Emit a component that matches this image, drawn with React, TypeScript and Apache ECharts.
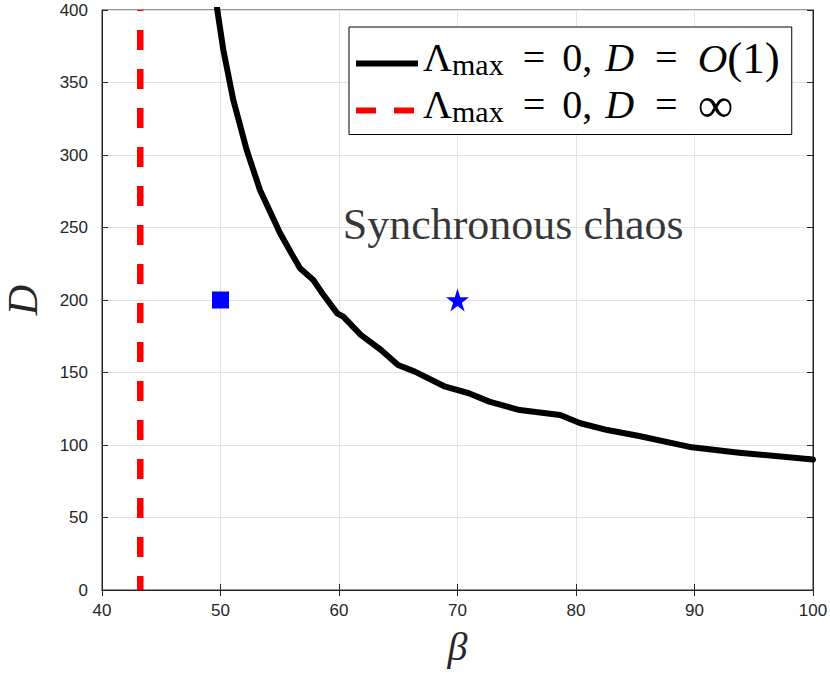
import React, { useEffect, useRef } from "react";
import * as echarts from "echarts";

const curveBeta = [49.6, 49.73, 50.24, 51.08, 52.21, 53.33, 55.02, 56.14, 56.71, 57.83, 58.7, 59.85, 60.36, 61.84, 63.55, 64.98, 66.4, 68.97, 70.96, 72.68, 75.24, 78.66, 80.37, 82.65, 85.22, 89.78, 93.77, 100];
const curveD = [410, 400, 372.4, 337.9, 303.4, 275.9, 246.2, 229.9, 221.9, 213.8, 203.4, 190.8, 188.5, 175.9, 165.5, 155.2, 150.6, 140.2, 135.7, 129.9, 124.1, 120.7, 115.0, 110.3, 106.4, 98.4, 94.7, 90.0];
const critBeta = 43.23;
const critD = [400, 0];
const squarePoint = [50, 200];
const starPoint = [70, 200];
const xTicks = [40, 50, 60, 70, 80, 90, 100];
const yTicks = [0, 50, 100, 150, 200, 250, 300, 350, 400];
const annotation = { beta: 74.7, D: 252, text: "Synchronous chaos" };

const STAR = "path://M50,0 L61.2,34.5 L97.6,34.5 L68.2,55.9 L79.4,90.5 L50,69.1 L20.6,90.5 L31.8,55.9 L2.4,34.5 L38.8,34.5 Z";
const ICON_SOLID = "path://M0,0 H62 V6 H0 Z";
const ICON_DASH = "path://M0,0 H20 V6 H0 Z M38,0 H58 V6 H38 Z M61.9,0 H62 V6 H61.9 Z";

export default function App() {
  const ref = useRef<HTMLDivElement>(null);
  useEffect(() => {
    if (!ref.current) return;
    const chart = echarts.init(ref.current, null, { renderer: "svg" });
    const axisColor = "#262626";
    const labelFont = { fontFamily: "Liberation Sans", fontSize: 17, color: axisColor };
    const serif = "Liberation Serif";
    const LH = 34;
    const rich = {
      L: { fontFamily: serif, fontSize: 40, color: "#000", lineHeight: LH },
      s: { fontFamily: serif, fontSize: 30, color: "#000", lineHeight: 20, padding: [14, 0, 0, 0] },
      e1: { fontFamily: serif, fontSize: 40, color: "#000", lineHeight: LH, padding: [0, 17, 0, 19] },
      n: { fontFamily: serif, fontSize: 40, color: "#000", lineHeight: LH },
      cm: { fontFamily: serif, fontSize: 40, color: "#000", lineHeight: LH, padding: [0, 13, 0, 0] },
      i: { fontFamily: serif, fontSize: 40, fontStyle: "italic", color: "#000", lineHeight: LH },
      e2: { fontFamily: serif, fontSize: 40, color: "#000", lineHeight: LH, padding: [0, 20, 0, 21] },
      c: { fontFamily: serif, fontSize: 41, fontStyle: "italic", color: "#000", lineHeight: LH },
      p: { fontFamily: serif, fontSize: 45, color: "#000", lineHeight: LH },
      inf: { fontFamily: serif, fontSize: 50, color: "#000", lineHeight: LH },
    };
    chart.setOption({
      animation: false,
      grid: {
        left: 102, right: 17, top: 10, bottom: 83, show: true, borderColor: axisColor, borderWidth: 1,
        outerBoundsMode: "none", containLabel: false,
      },
      xAxis: [
        {
          type: "value", min: 40, max: 100, interval: 10,
          name: "β", nameLocation: "middle", nameGap: 36,
          nameTextStyle: { fontFamily: serif, fontStyle: "italic", fontSize: 40, color: axisColor },
          axisLine: { show: true, lineStyle: { color: axisColor } },
          axisTick: { show: true, inside: true, length: 6, lineStyle: { color: axisColor } },
          axisLabel: { ...labelFont, margin: 12, formatter: (v: number) => (xTicks.includes(v) ? String(v) : "") },
          splitLine: { show: true, lineStyle: { color: "#e3e3e3", width: 1 } },
        },
        {
          type: "value", min: 40, max: 100, interval: 10, position: "top",
          axisLine: { show: true, lineStyle: { color: axisColor } },
          axisTick: { show: true, inside: true, length: 6, lineStyle: { color: axisColor } },
          axisLabel: { show: false }, splitLine: { show: false },
        },
      ],
      yAxis: [
        {
          type: "value", min: 0, max: 400, interval: 50,
          name: "D", nameLocation: "middle", nameGap: 58,
          nameTextStyle: { fontFamily: serif, fontStyle: "italic", fontSize: 42, color: axisColor },
          axisLine: { show: true, lineStyle: { color: axisColor } },
          axisTick: { show: true, inside: true, length: 6, lineStyle: { color: axisColor } },
          axisLabel: { ...labelFont, margin: 14, formatter: (v: number) => (yTicks.includes(v) ? String(v) : "") },
          splitLine: { show: true, lineStyle: { color: "#e3e3e3", width: 1 } },
        },
        {
          type: "value", min: 0, max: 400, interval: 50, position: "right",
          axisLine: { show: true, lineStyle: { color: axisColor } },
          axisTick: { show: true, inside: true, length: 6, lineStyle: { color: axisColor } },
          axisLabel: { show: false }, splitLine: { show: false },
        },
      ],
      legend: {
        left: 349, top: 27, orient: "vertical",
        backgroundColor: "#fff", borderColor: "#000", borderWidth: 1, borderRadius: 0,
        padding: [8, 12, 1, 7],
        itemWidth: 62, itemHeight: 6, itemGap: -7,
        textStyle: { fontFamily: serif, fontSize: 40, lineHeight: LH, padding: [0, 0, 12, 0], rich },
        data: [
          { name: "curve", icon: ICON_SOLID },
          { name: "inf", icon: ICON_DASH },
        ],
        formatter: (name: string) =>
          name === "curve"
            ? "{L|Λ}{s|max}{e1|=}{n|0}{cm|,}{i|D}{e2|=}{c|O}{p|(1)}"
            : "{L|Λ}{s|max}{e1|=}{n|0}{cm|,}{i|D}{e2|=}{inf|∞}",
        selectedMode: false,
      },
      series: [
        {
          name: "curve", type: "line", xAxisIndex: 0, yAxisIndex: 0,
          data: curveBeta.map((b, i) => [b, curveD[i]]),
          showSymbol: false, symbol: "none", smooth: false, clip: true,
          lineStyle: { color: "#000", width: 6, join: "round", cap: "round" },
          itemStyle: { color: "#000" },
          z: 3,
        },
        {
          name: "inf", type: "line", xAxisIndex: 0, yAxisIndex: 0,
          data: critD.map((d) => [critBeta, d]),
          showSymbol: false, symbol: "none",
          lineStyle: { color: "#ff0000", width: 6.5, type: [20, 19], dashOffset: 19, cap: "butt" },
          itemStyle: { color: "#ff0000" },
          z: 3,
        },
        {
          name: "square", type: "scatter", data: [squarePoint], symbol: "rect", symbolSize: 17,
          itemStyle: { color: "#0000ff", opacity: 1 }, z: 4,
        },
        {
          name: "star", type: "scatter", data: [starPoint], symbol: STAR, symbolSize: 23,
          itemStyle: { color: "#0000ff", opacity: 1 }, z: 4,
        },
        {
          name: "annotation", type: "scatter", data: [[annotation.beta, annotation.D]], symbolSize: 0,
          label: {
            show: true, position: "inside", formatter: annotation.text,
            fontFamily: serif, fontSize: 44, color: "#000",
          },
          silent: true, z: 2,
        },
      ],
    });
    return () => chart.dispose();
  }, []);
  return <div ref={ref} style={{ width: 830, height: 673, position: "absolute", left: 0, top: 0 }} />;
}
